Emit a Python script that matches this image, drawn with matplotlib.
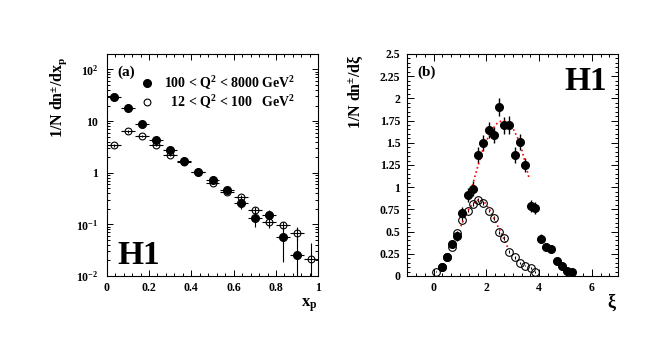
import matplotlib
matplotlib.use('Agg')
import matplotlib.pyplot as plt
from matplotlib.lines import Line2D
from matplotlib.ticker import MultipleLocator, FixedLocator, FixedFormatter, LogLocator, NullFormatter

# (a) x_p spectra, two Q^2 ranges
XP_HALF = 0.033
xp_hi = [0.033, 0.1, 0.167, 0.233, 0.3, 0.367, 0.433, 0.5, 0.567, 0.633, 0.7, 0.767, 0.833, 0.9]
dn_hi = [29.6, 18.1, 8.9, 4.4, 2.75, 1.68, 1.05, 0.73, 0.46, 0.26, 0.134, 0.151, 0.058, 0.025]
err_hi = [1.0, 0.6, 0.4, 0.2, 0.12, 0.07, 0.05, 0.04, 0.04, 0.06, 0.045, 0.035, 0.039, 0.03]

xp_lo = [0.033, 0.1, 0.167, 0.233, 0.3, 0.367, 0.433, 0.5, 0.567, 0.633, 0.7, 0.767, 0.833, 0.9, 0.967]
dn_lo = [3.38, 6.3, 5.1, 3.43, 2.23, 1.62, 1.02, 0.63, 0.425, 0.335, 0.194, 0.11, 0.099, 0.068, 0.021]
err_lo = [0.2, 0.3, 0.25, 0.15, 0.1, 0.06, 0.04, 0.03, 0.03, 0.03, 0.025, 0.025, 0.012, 0.021, 0.022]

# (b) xi spectra
xi_hi = [0.31, 0.5, 0.71, 0.9, 1.09, 1.29, 1.5, 1.69, 1.875, 2.09, 2.29, 2.475, 2.66,
         2.875, 3.075, 3.275, 3.475, 3.675, 3.86, 4.06, 4.26, 4.46, 4.66, 4.86, 5.06, 5.25]
dxi_hi = [0.098, 0.21, 0.36, 0.45, 0.71, 0.91, 0.985, 1.365, 1.50, 1.64, 1.59, 1.90, 1.695,
          1.70, 1.36, 1.51, 1.25, 0.79, 0.763, 0.42, 0.33, 0.30, 0.165, 0.117, 0.056, 0.05]
exi_hi = [0.03, 0.03, 0.05, 0.06, 0.07, 0.08, 0.08, 0.09, 0.09, 0.09, 0.09, 0.1, 0.1,
          0.1, 0.09, 0.09, 0.08, 0.07, 0.07, 0.05, 0.04, 0.04, 0.03, 0.02, 0.02, 0.02]

xi_lo = [0.1, 0.31, 0.5, 0.71, 0.9, 1.09, 1.29, 1.5, 1.69, 1.875, 2.09, 2.29, 2.475, 2.66,
         2.875, 3.075, 3.275, 3.475, 3.675, 3.86]
dxi_lo = [0.05, 0.10, 0.21, 0.33, 0.48, 0.63, 0.737, 0.81, 0.857, 0.82, 0.737, 0.65, 0.49,
          0.425, 0.274, 0.21, 0.143, 0.117, 0.094, 0.049]
exi_lo = [0.01, 0.01, 0.015, 0.02, 0.02, 0.02, 0.02, 0.02, 0.02, 0.02, 0.02, 0.02, 0.02,
          0.02, 0.015, 0.015, 0.01, 0.01, 0.01, 0.01]

# gaussian fits
fit_hi_x = [1.42, 1.65, 1.90, 2.22, 2.42, 2.60, 2.80, 2.98, 3.27, 3.45, 3.61]
fit_hi_y = [0.97, 1.21, 1.46, 1.65, 1.725, 1.75, 1.73, 1.68, 1.50, 1.30, 1.11]
fit_lo_x = [1.03, 1.27, 1.45, 1.58, 1.75, 1.96, 2.12, 2.28, 2.45, 2.60, 2.84]
fit_lo_y = [0.56, 0.725, 0.80, 0.84, 0.865, 0.82, 0.745, 0.65, 0.55, 0.46, 0.30]

plt.rcParams.update({
    'font.family': 'Liberation Serif',
    'font.weight': 'bold',
    'axes.labelweight': 'bold',
    'mathtext.fontset': 'custom',
    'mathtext.rm': 'Liberation Serif:bold',
    'mathtext.it': 'Liberation Serif:bold',
    'mathtext.bf': 'Liberation Serif:bold',
    'mathtext.default': 'regular',
    'axes.linewidth': 0.8,
})

TICK_CONFIG = {"direction": 'in', "top": True, "right": True, "labelsize": 8.5, "width": 0.7}
MS = 5.5

fig = plt.figure(figsize=(6.69, 3.64), dpi=100)
ax_a = fig.add_axes([0.1595, 0.2418, 0.3163, 0.610])
ax_b = fig.add_axes([0.6088, 0.2418, 0.3154, 0.610])

# ---- panel (a)
ax_a.errorbar(xp_lo, dn_lo, yerr=err_lo, xerr=XP_HALF, fmt='o', ms=MS - 0.6, mfc='none',
              mec='black', mew=0.8, ecolor='black', elinewidth=0.8, capsize=0)
ax_a.errorbar(xp_hi, dn_hi, yerr=err_hi, xerr=XP_HALF, fmt='o', ms=MS, color='black',
              ecolor='black', elinewidth=0.8, capsize=0)
ax_a.set_yscale('log')
ax_a.set_xlim(0, 1)
ax_a.set_ylim(0.01, 200)
ax_a.xaxis.set_major_locator(FixedLocator([0, 0.2, 0.4, 0.6, 0.8, 1.0]))
ax_a.xaxis.set_major_formatter(FixedFormatter(['0', '0.2', '0.4', '0.6', '0.8', '1']))
ax_a.xaxis.set_minor_locator(MultipleLocator(0.04))
ax_a.yaxis.set_major_locator(FixedLocator([0.01, 0.1, 1, 10, 100]))
ax_a.yaxis.set_major_formatter(FixedFormatter([r'10$^{-2}$', r'10$^{-1}$', '1', '10', r'10$^{2}$']))
ax_a.yaxis.set_minor_locator(LogLocator(base=10, subs=range(2, 10)))
ax_a.yaxis.set_minor_formatter(NullFormatter())
ax_a.tick_params(which='both', **TICK_CONFIG)
ax_a.tick_params(which='major', length=4.5)
ax_a.tick_params(which='minor', length=2.2)
ax_a.tick_params(axis='y', pad=6)
ax_a.tick_params(axis='x', pad=4)

ax_a.set_ylabel(r'1/N dn$^{\pm}$/dx$_{p}$', fontsize=11.5, loc='top')
ax_a.yaxis.set_label_coords(-0.18, 0.99)
ax_a.set_xlabel(r'x$_{p}$', fontsize=12, loc='right')
ax_a.xaxis.set_label_coords(0.995, -0.09)

ax_a.text(0.05, 0.95, '(a)', transform=ax_a.transAxes, fontsize=11, va='top', ha='left')
ax_a.text(0.05, 0.055, 'H1', transform=ax_a.transAxes, fontsize=24, va='baseline', ha='left')

handles = [Line2D([], [], marker='o', ls='none', ms=MS, color='black'),
           Line2D([], [], marker='o', ls='none', ms=MS - 0.6, mfc='none', mec='black', mew=0.8)]
ax_a.legend(handles, [r'100 < Q$^{2}$ < 8000 GeV$^{2}$', r'  12 < Q$^{2}$ < 100   GeV$^{2}$'],
            loc='upper left', bbox_to_anchor=(0.12, 0.945), frameon=False, fontsize=10,
            handletextpad=0.7, labelspacing=0.1, handlelength=1.0, borderpad=0.1)

# ---- panel (b)
ax_b.errorbar(xi_lo, dxi_lo, yerr=exi_lo, fmt='o', ms=MS, mfc='none', mec='black', mew=0.8,
              ecolor='black', elinewidth=0.8, capsize=0)
ax_b.errorbar(xi_hi, dxi_hi, yerr=exi_hi, fmt='o', ms=MS, color='black', ecolor='black',
              elinewidth=1.0, capsize=0)
ax_b.plot(fit_hi_x, fit_hi_y, ls=':', color='red', lw=1.2)
ax_b.plot(fit_lo_x, fit_lo_y, ls=':', color='red', lw=1.2)
ax_b.set_xlim(-1, 7)
ax_b.set_ylim(0, 2.5)
ax_b.xaxis.set_major_locator(FixedLocator([0, 2, 4, 6]))
ax_b.xaxis.set_minor_locator(MultipleLocator(1 / 3))
ax_b.yaxis.set_major_locator(FixedLocator([0, 0.25, 0.5, 0.75, 1, 1.25, 1.5, 1.75, 2, 2.25, 2.5]))
ax_b.yaxis.set_major_formatter(FixedFormatter(['0', '0.25', '0.5', '0.75', '1', '1.25', '1.5',
                                               '1.75', '2', '2.25', '2.5']))
ax_b.yaxis.set_minor_locator(MultipleLocator(0.05))
ax_b.tick_params(which='both', **TICK_CONFIG)
ax_b.tick_params(which='major', length=5)
ax_b.tick_params(which='minor', length=2.5)
ax_b.tick_params(axis='y', pad=5)
ax_b.tick_params(axis='x', pad=4)

ax_b.set_ylabel(r'1/N dn$^{\pm}$/d$\xi$', fontsize=11.5, loc='top')
ax_b.yaxis.set_label_coords(-0.2, 1.0)
ax_b.set_xlabel(r'$\xi$', fontsize=13, loc='right')
ax_b.xaxis.set_label_coords(0.995, -0.07)

ax_b.text(0.05, 0.95, '(b)', transform=ax_b.transAxes, fontsize=11, va='top', ha='left')
ax_b.text(0.945, 0.838, 'H1', transform=ax_b.transAxes, fontsize=24, va='baseline', ha='right')

fig.savefig('out.png', dpi=100, facecolor='white')
